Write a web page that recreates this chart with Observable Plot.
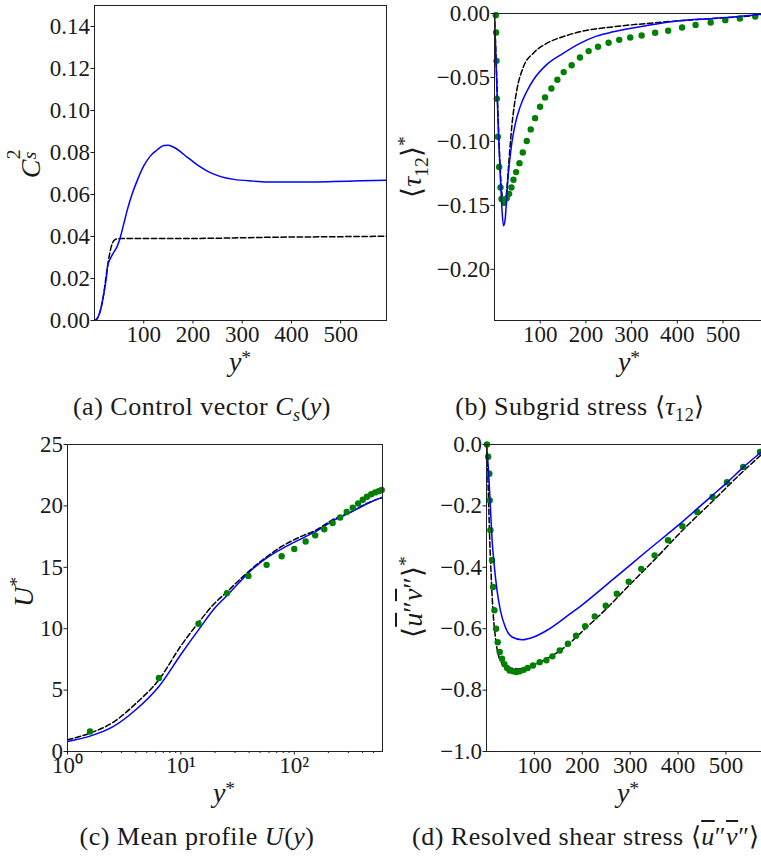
<!DOCTYPE html>
<html>
<head>
<meta charset="utf-8">
<script src="https://cdn.jsdelivr.net/npm/d3@7"></script>
<script src="https://cdn.jsdelivr.net/npm/@observablehq/plot@0.6"></script>
<style>
  body { margin: 0; background: #fff; font-family: "Liberation Serif", serif; }
  #fig { position: relative; width: 761px; height: 857px; overflow: hidden; color: #1a1a1a; background: #fff; }
  .panel { position: absolute; }
  .lbl { position: absolute; font-size: 28px; line-height: 1; white-space: nowrap;
         transform: translate(-50%, -50%); }
  .rot { transform: translate(-50%, -50%) rotate(-90deg); }
  .cap { position: absolute; font-size: 26px; line-height: 1; white-space: nowrap;
         transform: translate(-50%, -50%); letter-spacing: 0.5px; }
  sup, sub { line-height: 0; font-size: 0.7em; }
  .xl sup { vertical-align: 0.35em; }
  .ss { position: relative; display: inline-block; width: 0.42em; height: 1em; vertical-align: baseline; }
  .ss .p { position: absolute; left: 0.02em; top: -0.42em; font-size: 0.7em; font-style: normal; }
  .ss .b { position: absolute; left: 0.02em; top: 0.42em; font-size: 0.7em; font-style: italic; }
  .ol { text-decoration: overline; }
</style>
</head>
<body>
<div id="fig"></div>
<script>
// ---------------- Panel (a): control vector C_s^2 ----------------
const aBlueY = [0, 5.2, 12, 18.8, 24.2, 26.9, 32.3, 39.1, 45.9, 52.6, 59.4, 66.2, 76.4, 86.5, 100, 113.6, 127, 140.7, 150, 161, 175, 188, 200, 215, 230, 249, 265, 283, 320, 351, 400, 450, 486, 540, 593];
const aBlueC = [0, 0.0008, 0.0048, 0.0127, 0.0206, 0.0262, 0.0295, 0.0325, 0.0352, 0.0398, 0.046, 0.0523, 0.0602, 0.0665, 0.0736, 0.0784, 0.0812, 0.0833, 0.0834, 0.0825, 0.0803, 0.0778, 0.0757, 0.0731, 0.071, 0.0691, 0.068, 0.0672, 0.0664, 0.066, 0.0659, 0.066, 0.0662, 0.0665, 0.0668];
const aDashY = [0, 5.2, 12, 18.8, 24.2, 28.9, 33.6, 39.1, 45.9, 55, 80, 215, 350, 486, 593];
const aDashC = [0, 0.0008, 0.0048, 0.0127, 0.0222, 0.0293, 0.0348, 0.038, 0.0389, 0.039, 0.039, 0.0391, 0.0396, 0.0399, 0.0401];
const aYTicks = [0, 0.02, 0.04, 0.06, 0.08, 0.10, 0.12, 0.14];
const linXTicks = [100, 200, 300, 400, 500];

// ---------------- Panel (b): subgrid stress <tau12> ----------------
const bBlueY = [0, 3.6, 8.7, 12.4, 16, 19.7, 23.3, 26.9, 30.6, 34.2, 38, 45, 56, 70.6, 85, 114, 151, 187, 223, 260, 333, 405, 478, 582, 593];
const bBlueT = [0, -0.0417, -0.094, -0.125, -0.151, -0.166, -0.161, -0.143, -0.124, -0.112, -0.101, -0.087, -0.073, -0.061, -0.052, -0.040, -0.031, -0.0234, -0.0177, -0.0143, -0.0094, -0.0057, -0.0039, -0.0005, 0];
const bDashY = [0, 3.6, 8.7, 13.8, 18.2, 21.1, 25.5, 30.6, 37.8, 48.8, 63.3, 85, 114, 151, 187, 260, 333, 405, 478, 582, 593];
const bDashT = [0, -0.0365, -0.0885, -0.130, -0.146, -0.150, -0.143, -0.120, -0.0885, -0.060, -0.0417, -0.031, -0.0234, -0.018, -0.0143, -0.0104, -0.0078, -0.0057, -0.0039, -0.0008, 0];
const bDnsY = [2.9, 3.6, 4.4, 5.1, 7.3, 10.2, 13.1, 15.3, 21.1, 26.9, 32, 37.1, 41.5, 47.3, 54.6, 61.9, 70.6, 79.3, 88.8, 99.7, 110.6, 124.5, 137.6, 151.4, 168.9, 187, 206, 226.5, 249.6, 272.9, 297, 322, 351.5, 380, 410.5, 440, 473, 505, 537, 570.6];
const bDnsT = [-0.0013, -0.0148, -0.037, -0.0667, -0.0964, -0.120, -0.136, -0.145, -0.148, -0.1445, -0.141, -0.136, -0.130, -0.124, -0.117, -0.1086, -0.0997, -0.0906, -0.0818, -0.0729, -0.0656, -0.0586, -0.0518, -0.0458, -0.0404, -0.0344, -0.0294, -0.026, -0.0229, -0.0206, -0.0188, -0.0172, -0.0151, -0.0135, -0.0109, -0.0089, -0.0070, -0.0052, -0.0039, -0.0023];
const bYTicks = [0, -0.05, -0.10, -0.15, -0.20];

// ---------------- Panel (c): mean profile U ----------------
const cBlueY = [1, 1.58, 2.5, 4, 6.4, 10, 14.3, 20, 25.5, 33, 40, 58, 81, 114, 161, 211, 316, 414, 508, 600];
const cBlueU = [0.82, 1.25, 2.0, 3.4, 5.3, 7.9, 9.9, 11.7, 12.7, 13.8, 14.6, 15.8, 16.6, 17.3, 18.0, 18.7, 19.5, 20.05, 20.45, 20.7];
const cDashY = [1, 1.58, 2.5, 4, 6.4, 10, 14.3, 20, 25.5, 33, 40, 58, 81, 114, 161, 211, 316, 414, 508, 600];
const cDashU = [0.95, 1.5, 2.35, 3.9, 5.85, 8.6, 10.5, 12.1, 13.0, 14.0, 14.7, 15.9, 16.8, 17.5, 18.1, 18.8, 19.5, 20.1, 20.45, 20.7];
const cDnsY = [1.58, 6.4, 14.3, 25.5, 39.4, 57, 77.4, 100, 126, 153, 184, 218, 254, 290, 328, 366, 402, 438, 477, 517, 555, 590];
const cDnsU = [1.63, 5.98, 10.4, 12.9, 14.3, 15.2, 15.9, 16.5, 17.1, 17.6, 18.1, 18.6, 19.05, 19.5, 19.85, 20.2, 20.5, 20.75, 20.95, 21.1, 21.2, 21.3];
const cYTicks = [0, 5, 10, 15, 20, 25];
const cXMajor = [1, 10, 100];
const cXMinor = [2, 3, 4, 5, 6, 7, 8, 9, 20, 30, 40, 50, 60, 70, 80, 90, 200, 300, 400, 500];
const cXLabels = ["10\u2070", "10\u00b9", "10\u00b2"];

// ---------------- Panel (d): resolved shear stress ----------------
const dBlueY = [0, 4.6, 8.1, 11.7, 16.5, 22, 29, 39.4, 53.4, 74.3, 98.5, 126.5, 175, 196, 266, 335, 405, 470, 505, 537, 574, 590];
const dBlueV = [0, -0.095, -0.203, -0.312, -0.399, -0.475, -0.54, -0.595, -0.627, -0.636, -0.627, -0.605, -0.551, -0.527, -0.437, -0.347, -0.257, -0.168, -0.12, -0.073, -0.024, -0.003];
const dDashY = [0, 2.6, 4.7, 6.8, 9.6, 13, 18.6, 25.5, 36, 50, 65, 80, 100, 127, 170, 206, 249, 297, 351, 409, 472, 536, 574, 590];
const dDashV = [0, -0.095, -0.203, -0.312, -0.421, -0.529, -0.627, -0.69, -0.718, -0.728, -0.731, -0.729, -0.717, -0.697, -0.652, -0.600, -0.537, -0.46, -0.375, -0.28, -0.185, -0.087, -0.033, -0.01];
const dDnsY = [1, 3.5, 6, 6.7, 8.1, 11.6, 13.7, 16.5, 20, 23.4, 27.6, 32.5, 37.4, 43, 48.5, 55.5, 62.4, 69.4, 77.7, 86, 97, 111, 125, 137.6, 153, 170, 187, 206, 226, 249, 272, 297, 323, 351, 379, 409, 440, 472, 502, 536, 571];
const dDnsV = [0, -0.040, -0.095, -0.182, -0.279, -0.377, -0.464, -0.54, -0.6, -0.644, -0.676, -0.698, -0.716, -0.728, -0.736, -0.739, -0.741, -0.739, -0.734, -0.728, -0.72, -0.709, -0.703, -0.69, -0.671, -0.649, -0.623, -0.592, -0.56, -0.525, -0.486, -0.447, -0.405, -0.361, -0.312, -0.266, -0.22, -0.171, -0.123, -0.073, -0.024];
const dYTicks = [0, -0.2, -0.4, -0.6, -0.8, -1.0];

// ---------------- helpers ----------------
const SERIF = '"Liberation Serif", serif';
const zip = (xs, ys) => xs.map((x, i) => ({x, v: ys[i]}));
const BLUE = "#0000ff", GREEN = "#008000", INK = "#1a1a1a";
const svgStyle = {fontFamily: SERIF, fontSize: "23px",
  background: "transparent", color: INK, overflow: "visible", maxWidth: "none"};
const dashLine = (d) => Plot.line(d, {x: "x", y: "v", stroke: "#000", strokeWidth: 1.5, strokeDasharray: "5.5,2.6", curve: "monotone-x", clip: true});
const blueLine = (d) => Plot.line(d, {x: "x", y: "v", stroke: BLUE, strokeWidth: 1.5, curve: "monotone-x", clip: true});
const dots = (d) => Plot.dot(d, {x: "x", y: "v", r: 3.2, fill: GREEN, stroke: "none"});
const frame = () => Plot.frame({stroke: "#222", strokeWidth: 1});
const axX = (ticks, fmt) => Plot.axisX({ticks, tickSize: 3.5, tickPadding: 2, label: null, tickFormat: fmt, fontFamily: SERIF, fontSize: 23});
const axY = (ticks, fmt) => Plot.axisY({ticks, tickSize: 3.5, tickPadding: 1, label: null, tickFormat: fmt, fontFamily: SERIF, fontSize: 23});

const fig = document.getElementById("fig");
fig.style.fontFamily = SERIF;
function place(svg, left, top, w) {
  const div = document.createElement("div");
  div.className = "panel";
  div.style.left = left + "px"; div.style.top = top + "px"; div.style.width = w + "px";
  svg.style.fontFamily = SERIF;
  div.appendChild(svg);
  fig.appendChild(div);
}
function html(cls, x, y, content) {
  const el = document.createElement("div");
  el.className = cls;
  el.style.left = x + "px"; el.style.top = y + "px";
  el.style.fontFamily = SERIF;
  el.innerHTML = content;
  fig.appendChild(el);
}

// (a)
place(Plot.plot({
  width: 392, height: 380, marginLeft: 94, marginRight: 6, marginTop: 5, marginBottom: 60,
  style: svgStyle,
  x: {domain: [0, 593]}, y: {domain: [0, 0.15]},
  marks: [
    dashLine(zip(aDashY, aDashC)),
    blueLine(zip(aBlueY, aBlueC)),
    frame(),
    axX(linXTicks, "d"),
    axY(aYTicks, ".2f")
  ]
}), 0, 0, 392);

// (b)
place(Plot.plot({
  width: 392, height: 380, marginLeft: 114, marginRight: 7, marginTop: 13, marginBottom: 60,
  style: svgStyle,
  x: {domain: [0, 593]}, y: {domain: [-0.24, 0]},
  marks: [
    dashLine(zip(bDashY, bDashT)),
    dots(zip(bDnsY, bDnsT)),
    blueLine(zip(bBlueY, bBlueT)),
    frame(),
    axX(linXTicks, "d"),
    axY(bYTicks, ".2f")
  ]
}), 380, 0, 392);

// (c)
place(Plot.plot({
  width: 392, height: 390, marginLeft: 67, marginRight: 10, marginTop: 24, marginBottom: 59,
  style: svgStyle,
  x: {type: "log", domain: [1, 600]}, y: {domain: [0, 25]},
  marks: [
    dashLine(zip(cDashY, cDashU)),
    blueLine(zip(cBlueY, cBlueU)),
    dots(zip(cDnsY, cDnsU)),
    frame(),
    Plot.axisX({ticks: cXMinor, tickSize: 2, tickFormat: () => "", label: null}),
    axX(cXMajor, (d) => cXLabels[cXMajor.indexOf(d)]),
    axY(cYTicks, "d")
  ]
}), 0, 420, 392);

// (d)
place(Plot.plot({
  width: 400, height: 390, marginLeft: 106, marginRight: 10, marginTop: 24, marginBottom: 59,
  style: svgStyle,
  x: {domain: [0, 593]}, y: {domain: [-1, 0]},
  marks: [
    dashLine(zip(dDashY, dDashV)),
    dots(zip(dDnsY, dDnsV)),
    blueLine(zip(dBlueY, dBlueV)),
    frame(),
    axX(linXTicks, "d"),
    axY(dYTicks, ".1f")
  ]
}), 380, 420, 400);

// axis labels
const ystar = '<i>y</i><sup>*</sup>';
html("lbl xl", 240, 362, ystar);
html("lbl xl", 629, 362, ystar);
html("lbl xl", 224, 793, ystar);
html("lbl xl", 628, 793, ystar);
html("lbl rot", 28, 163, '<i>C</i><span class="ss"><span class="p">2</span><span class="b">s</span></span>');
html("lbl rot", 412, 167, '\u27e8<i>\u03c4</i><sub>12</sub>\u27e9<sup>*</sup>');
html("lbl rot", 24, 592, '<i>U</i><sup>*</sup>');
html("lbl rot", 413, 597, '\u27e8<i><span class="ol">u</span></i>\u2033<i><span class="ol">v</span></i>\u2033\u27e9<sup>*</sup>');

// captions
html("cap", 202, 407, '(a) Control vector <i>C</i><sub><i>s</i></sub>(<i>y</i>)');
html("cap", 580, 407, '(b) Subgrid stress \u27e8<i>\u03c4</i><sub>12</sub>\u27e9');
html("cap", 197, 837, '(c) Mean profile <i>U</i>(<i>y</i>)');
html("cap", 586, 837, '(d) Resolved shear stress \u27e8<i><span class="ol">u</span></i>\u2033<i><span class="ol">v</span></i>\u2033\u27e9');
</script>
</body>
</html>
